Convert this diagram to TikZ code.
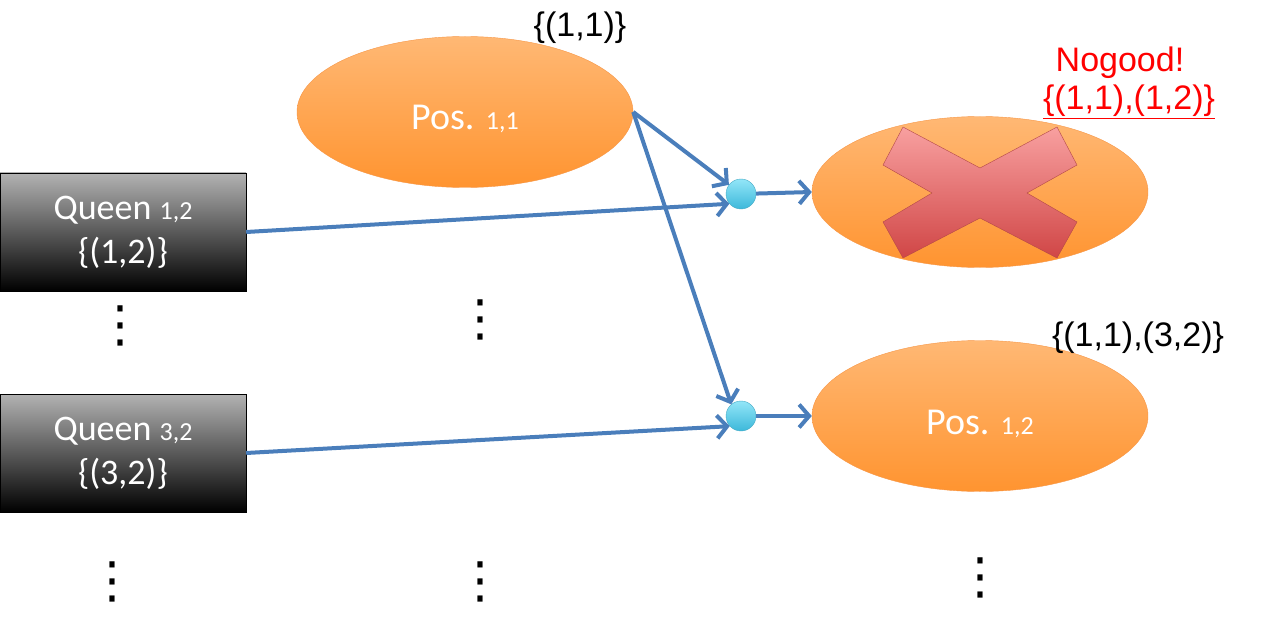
\documentclass[tikz,border=0pt]{standalone}
\usepackage{fontspec}
\setmainfont{Carlito}
\newfontfamily\arialf{Liberation Sans}
\newfontfamily\symf{DejaVu Sans}
\usetikzlibrary{arrows.meta,shapes.geometric}

\definecolor{linkblue}{HTML}{4A7EBB}
\definecolor{orangetop}{HTML}{FFB874}
\definecolor{orangebot}{HTML}{FF9430}
\definecolor{orangeline}{HTML}{F79646}
\definecolor{cyantop}{HTML}{93E6F8}
\definecolor{cyanbot}{HTML}{3CB8DA}
\definecolor{cyanline}{HTML}{46AAC5}
\definecolor{crosstop}{HTML}{F8A0A0}
\definecolor{crossbot}{HTML}{D04646}
\definecolor{crossline}{HTML}{B44848}
\definecolor{nogoodred}{HTML}{FF0000}

\begin{document}
\begin{tikzpicture}[x=1pt,y=-1pt,queen/.style={draw=black,top color=gray!60,bottom color=black,minimum width=246pt,minimum height=118pt,inner sep=0pt,text=white,align=center,font=\fontsize{36}{44}\selectfont},posnode/.style={ellipse,draw=orangeline,top color=orangetop,bottom color=orangebot,minimum width=336pt,minimum height=151pt,text=white,font=\fontsize{38}{44}\selectfont},junc/.style={circle,draw=cyanline,top color=cyantop,bottom color=cyanbot,minimum size=30pt,inner sep=0pt},flow/.style={draw=linkblue,line width=4pt,-{Straight Barb[length=10pt,width=23pt]}},setl/.style={font=\arialf\fontsize{34}{38}\selectfont},vdots/.style={font=\symf\fontsize{50}{50}\selectfont,inner sep=0pt}]
\def\sub#1{{\fontsize{26}{28}\selectfont #1}}

\useasboundingbox (0,0) rectangle (1283,623);

\node[queen] (Q1) at (123,232) {Queen \sub{1,2}\\\{(1,2)\}};
\node[queen] (Q2) at (123,453) {Queen \sub{3,2}\\\{(3,2)\}};

\node[posnode] (P11) at (465,112) {\raisebox{-18pt}[0pt][0pt]{Pos. \sub{1,1}}};
\node[posnode] (X) at (980,192) {};
\node[posnode] (P12) at (980,416) {\raisebox{-18pt}[0pt][0pt]{Pos. \sub{1,2}}};

% cross on the nogood ellipse
\draw[crossline,top color=crosstop,bottom color=crossbot] (883,165) -- (903,127) -- (980,168) -- (1057,127) -- (1077,165) -- (1027,193) -- (1077,222) -- (1057,258) -- (980,218) -- (903,258) -- (883,222) -- (932,193) -- cycle;

\node[junc] (J1) at (741,194) {};
\node[junc] (J2) at (741,416) {};

\draw[flow] (P11.east) -- (J1);
\draw[flow] (P11.east) -- (J2.130);
\draw[flow] (Q1.east) -- (J1.220);
\draw[flow] (Q2.east) -- (J2.222);
\draw[flow] (J1) -- (X.west);
\draw[flow] (J2) -- (P12.west);

\node[setl] (L11) at (580,28) {\{(1,1)\}};
\node[setl,text=nogoodred] (NG) at (1120,63) {Nogood!};
\node[setl,text=nogoodred] (NGset) at (1129,102) {\underline{\{(1,1),(1,2)\}}};
\node[setl] (L12) at (1138,338) {\{(1,1),(3,2)\}};

\node[vdots] (d1) at (120,326) {⋮};
\node[vdots] (d2) at (112,582) {⋮};
\node[vdots] (d3) at (480,320) {⋮};
\node[vdots] (d4) at (480,582) {⋮};
\node[vdots] (d5) at (980,578) {⋮};
\end{tikzpicture}
\end{document}
